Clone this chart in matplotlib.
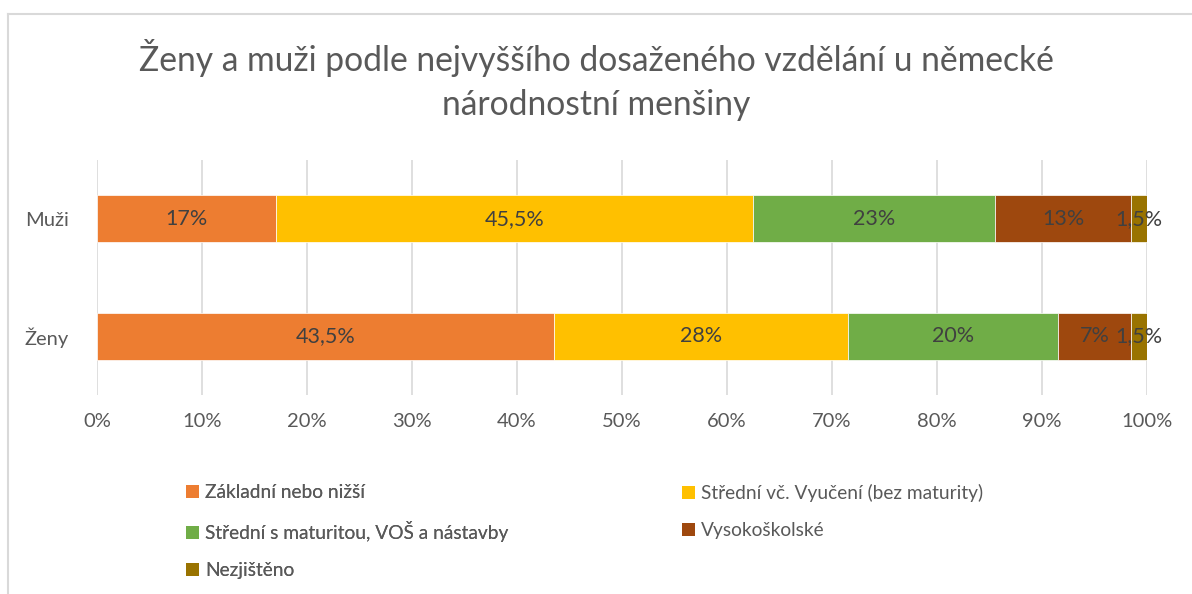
import matplotlib
matplotlib.use('Agg')
import matplotlib.pyplot as plt
from matplotlib.lines import Line2D
from matplotlib.patches import Patch

plt.rcParams['font.family'] = ['Lato', 'DejaVu Sans']

title = 'Ženy a muži podle nejvyššího dosaženého vzdělání u německé\nnárodnostní menšiny'
groups = ['Ženy', 'Muži']
categories = ['Základní nebo nižší', 'Střední vč. Vyučení (bez maturity)',
              'Střední s maturitou, VOŠ a nástavby', 'Vysokoškolské', 'Nezjištěno']
colors = ['#ED7D31', '#FFC000', '#70AD47', '#9E480E', '#997300']
# percentages per category: [Ženy, Muži]
values = [
    [43.5, 17.0],
    [28.0, 45.5],
    [20.0, 23.0],
    [7.0, 13.0],
    [1.5, 1.5],
]
xticks = [0, 10, 20, 30, 40, 50, 60, 70, 80, 90, 100]

txt = '#595959'
fig = plt.figure(figsize=(11.92, 5.94), dpi=100)
ax = fig.add_axes([97 / 1192, 1 - 395 / 594, 1050 / 1192, 235 / 594])

left = [0.0, 0.0]
handles = []
for cat, vals, col in zip(categories, values, colors):
    ax.barh(groups, vals, left=left, height=0.4, color=col, edgecolor='white',
            linewidth=0.5, zorder=2)
    for i, v in enumerate(vals):
        lbl = ('%g' % v).replace('.', ',') + '%'
        ax.text(left[i] + v / 2, i, lbl, ha='center', va='center',
                fontsize=15.5, color='#404040', zorder=3)
    left = [l + v for l, v in zip(left, vals)]
    handles.append(Patch(facecolor=col, label=cat))

ax.set_xlim(0, 100)
ax.set_ylim(-0.5, 1.5)
ax.set_xticks(xticks)
ax.set_xticklabels(['%d%%' % t for t in xticks])
ax.grid(axis='x', color='#D9D9D9', linewidth=1.2, zorder=0)
for s in ax.spines.values():
    s.set_visible(False)
ax.tick_params(length=0, labelsize=14.5, colors=txt, pad=13)
ax.tick_params(axis='y', pad=20)

fig.text(0.5, 1 - 80 / 594, title, ha='center', va='center', fontsize=24.2,
         color=txt, linespacing=1.45)

# legend: two columns, filled row by row
legend_kw = dict(loc='upper left', frameon=False, fontsize=13.8, labelcolor=txt,
                 handlelength=0.7, handleheight=0.7, handletextpad=0.3,
                 labelspacing=1.05, borderaxespad=0, borderpad=0)
leg1 = fig.legend([handles[i] for i in (0, 2, 4)],
                  [categories[i] for i in (0, 2, 4)],
                  bbox_to_anchor=(186 / 1192, 1 - 484 / 594), **legend_kw)
fig.add_artist(leg1)
fig.legend([handles[i] for i in (1, 3)], [categories[i] for i in (1, 3)],
           bbox_to_anchor=(682 / 1192, 1 - 484 / 594), **legend_kw)

# chart frame
fig.add_artist(Line2D([8 / 1192, 8 / 1192], [0, 1 - 14 / 594], color='#D9D9D9',
                      linewidth=1.5, transform=fig.transFigure))
fig.add_artist(Line2D([8 / 1192, 1], [1 - 14 / 594, 1 - 14 / 594], color='#D9D9D9',
                      linewidth=1.5, transform=fig.transFigure))

fig.savefig('out.png', dpi=100)
